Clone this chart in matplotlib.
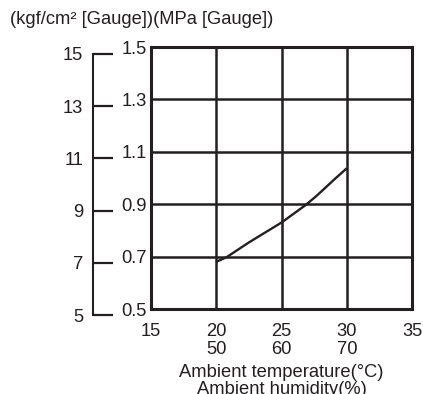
import matplotlib
matplotlib.use("Agg")
import matplotlib.pyplot as plt

plt.rcParams['font.family'] = ['Liberation Sans', 'DejaVu Sans']

# Data
temp = [20, 20.8, 22.5, 25, 26.8, 27.6, 28.3, 29.1, 30]
pressure_mpa = [0.68, 0.698, 0.754, 0.83, 0.895, 0.928, 0.96, 0.997, 1.037]
x_ticks = [15, 20, 25, 30, 35]
x_labels = ["15", "20\n50", "25\n60", "30\n70", "35"]
mpa_ticks = [0.5, 0.7, 0.9, 1.1, 1.3, 1.5]
kgf_ticks = [5, 7, 9, 11, 13, 15]

C = '#231f20'
W, H = 423, 394
FS = 13.2

fig = plt.figure(figsize=(W / 100, H / 100), dpi=100)

def rect(x0, y0, x1, y1):
    return [x0 / W, 1 - y1 / H, (x1 - x0) / W, (y1 - y0) / H]

ax = fig.add_axes(rect(151, 47, 412, 309))
ax.plot(temp, pressure_mpa, color=C, lw=1.7, solid_capstyle='butt',
        solid_joinstyle='round')
ax.set_xlim(15, 35)
ax.set_ylim(0.5, 1.5)
ax.set_xticks(x_ticks)
ax.set_xticklabels(x_labels, fontsize=FS, color=C, linespacing=1.05)
ax.set_yticks(mpa_ticks)
ax.set_yticklabels([f"{v:.1f}" for v in mpa_ticks], fontsize=FS, color=C)
ax.tick_params(axis='both', length=0, pad=3)
ax.tick_params(axis='x', pad=10)
ax.grid(True, color=C, lw=1.8)
for s in ax.spines.values():
    s.set_color(C)
    s.set_linewidth(2.2)
ax.set_xlabel("Ambient temperature(°C)\nAmbient humidity(%)", fontsize=FS,
              color=C, linespacing=1.05, labelpad=4.5)

# kgf/cm2 axis
ax2 = fig.add_axes(rect(93, 54, 110, 315))
ax2.set_ylim(5, 15)
ax2.set_xlim(0, 1)
ax2.set_yticks(kgf_ticks)
ax2.set_yticklabels([str(v) for v in kgf_ticks], fontsize=FS, color=C)
ax2.set_xticks([])
ax2.patch.set_visible(False)
for k in ['top', 'right', 'bottom']:
    ax2.spines[k].set_visible(False)
ax2.spines['left'].set_color(C)
ax2.spines['left'].set_linewidth(1.5)
ax2.tick_params(axis='y', direction='in', length=14.5, width=1.6, color=C, pad=7)

fig.text(10 / W, 1 - 20 / H, "(kgf/cm² [Gauge])(MPa [Gauge])", fontsize=FS,
         color=C, va='center', ha='left')

fig.savefig("out.png", dpi=100)
